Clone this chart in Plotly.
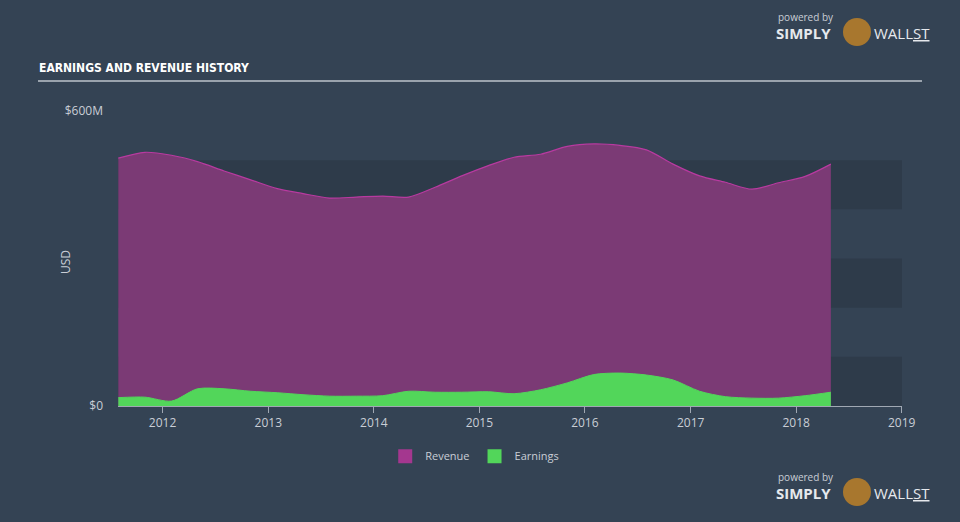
import plotly.graph_objects as go

dates = ["2011-08-01", "2011-11-01", "2012-02-01", "2012-05-01", "2012-08-01", "2012-11-01",
         "2013-02-01", "2013-05-01", "2013-08-01", "2013-11-01", "2014-02-01", "2014-05-01",
         "2014-08-01", "2014-11-01", "2015-02-01", "2015-05-01", "2015-08-01", "2015-11-01",
         "2016-02-01", "2016-05-01", "2016-08-01", "2016-11-01", "2017-02-01", "2017-05-01",
         "2017-08-01", "2017-11-01", "2018-02-01", "2018-05-01"]
revenue = [504, 516, 510, 497, 478, 460, 442, 432, 423, 425, 427, 425, 445, 468, 489, 506,
           512, 528, 533, 530, 521, 492, 468, 455, 441, 454, 467, 492]
earnings = [17, 18, 10, 35, 35, 30, 27, 23, 20, 20, 21, 30, 28, 28, 29, 25, 33, 47, 64, 67,
            63, 53, 30, 19, 16, 16, 21, 28]
year_ticks = ["2012-01-01", "2013-01-01", "2014-01-01", "2015-01-01", "2016-01-01",
              "2017-01-01", "2018-01-01", "2019-01-01"]
year_labels = ["2012", "2013", "2014", "2015", "2016", "2017", "2018", "2019"]
band_ranges = [(0, 100), (200, 300), (400, 500)]

BG = "#344354"
BAND = "#2e3b4a"
TXT = "#c9ced6"
REV_FILL = "#7b3a75"
REV_LINE = "#b83aa0"
EARN = "#52d65a"
TITLE_FONT = "Liberation Sans Narrow, Arial Narrow, DejaVu Sans Condensed, sans-serif"


def px_x(px):
    return (px - 118) / 784


def px_y(py):
    return (406 - py) / 295


fig = go.Figure()
fig.add_trace(go.Scatter(x=dates, y=revenue, name="Revenue", mode="lines", showlegend=False,
                         line=dict(color=REV_LINE, width=1.2, shape="spline", smoothing=0.8),
                         fill="tozeroy", fillcolor=REV_FILL))
fig.add_trace(go.Scatter(x=dates, y=earnings, name="Earnings", mode="lines", showlegend=False,
                         line=dict(color=EARN, width=1, shape="spline", smoothing=0.8),
                         fill="tozeroy", fillcolor=EARN))
# legend entries (square swatches)
fig.add_trace(go.Scatter(x=[None], y=[None], name="Revenue", mode="markers",
                         marker=dict(symbol="square", size=14, color="#a4378f")))
fig.add_trace(go.Scatter(x=[None], y=[None], name="Earnings", mode="markers",
                         marker=dict(symbol="square", size=14, color=EARN)))

shapes = []
for lo, hi in band_ranges:
    shapes.append(dict(type="rect", xref="paper", yref="y", x0=0, x1=1, y0=lo, y1=hi,
                       fillcolor=BAND, line=dict(width=0), layer="below"))
# title underline
shapes.append(dict(type="line", xref="paper", yref="paper",
                   x0=px_x(38), x1=px_x(922), y0=px_y(81), y1=px_y(81),
                   line=dict(color="#9aa3ad", width=2)))

annotations = [
    dict(text="<b>EARNINGS AND REVENUE HISTORY</b>", xref="paper", yref="paper",
         x=px_x(37), y=px_y(68), xanchor="left", yanchor="middle",
         showarrow=False, font=dict(family=TITLE_FONT, size=12, color="#ffffff")),
    dict(text="<b>EARNINGS AND REVENUE HISTORY</b>", xref="paper", yref="paper",
         x=px_x(37), y=px_y(518), xanchor="left", yanchor="top",
         showarrow=False, font=dict(family=TITLE_FONT, size=12, color="#ffffff")),
    dict(text="USD", xref="paper", yref="paper", x=px_x(65), y=px_y(262),
         xanchor="center", yanchor="middle", textangle=-90, showarrow=False,
         font=dict(size=12, color=TXT)),
]
for (px, py) in [(776, 18), (776, 478)]:
    annotations.append(dict(text="powered by", xref="paper", yref="paper",
                            x=px_x(px), y=px_y(py - 1), xanchor="left", yanchor="middle",
                            showarrow=False, font=dict(family="Open Sans", size=10, color="#c9ced6")))
    annotations.append(dict(text="<b>SIMPLY</b>", xref="paper", yref="paper",
                            x=px_x(px - 2), y=px_y(py + 15), xanchor="left", yanchor="middle",
                            showarrow=False, font=dict(family="Open Sans", size=15, color="#e6e9ed")))
    annotations.append(dict(text="WALL<u>ST</u>", xref="paper", yref="paper",
                            x=px_x(px + 96), y=px_y(py + 15), xanchor="left", yanchor="middle",
                            showarrow=False, font=dict(family="Open Sans", size=15, color="#e6e9ed")))
    shapes.append(dict(type="circle", xref="paper", yref="paper",
                       x0=px_x(px + 67), x1=px_x(px + 95),
                       y0=px_y(py + 28), y1=px_y(py + 0),
                       fillcolor="#a8772e", line=dict(width=0)))

fig.update_layout(
    width=960, height=522,
    margin=dict(l=118, r=58, t=111, b=116),
    paper_bgcolor=BG, plot_bgcolor=BG,
    font=dict(family="Open Sans, sans-serif", color=TXT, size=12),
    showlegend=True,
    legend=dict(orientation="h", x=0.455, xanchor="center", y=-0.17, yanchor="middle",
                font=dict(size=11, color=TXT), bgcolor="rgba(0,0,0,0)", itemwidth=30),
    xaxis=dict(type="date", range=["2011-07-31", "2019-01-02"], tickvals=year_ticks,
               ticktext=year_labels, showgrid=False, zeroline=False, showline=True,
               linecolor="#a0a8b3", linewidth=1, ticks="outside", ticklen=6,
               tickcolor="#a0a8b3", tickfont=dict(size=12, color=TXT)),
    yaxis=dict(range=[0, 600], tickvals=[0, 600], ticktext=["$0", "$600M"], showgrid=False,
               zeroline=False, showline=False, ticks="", tickfont=dict(size=12, color=TXT),
               ticklabelstandoff=14),
    shapes=shapes,
    annotations=annotations,
)

fig.write_html("out.html")
